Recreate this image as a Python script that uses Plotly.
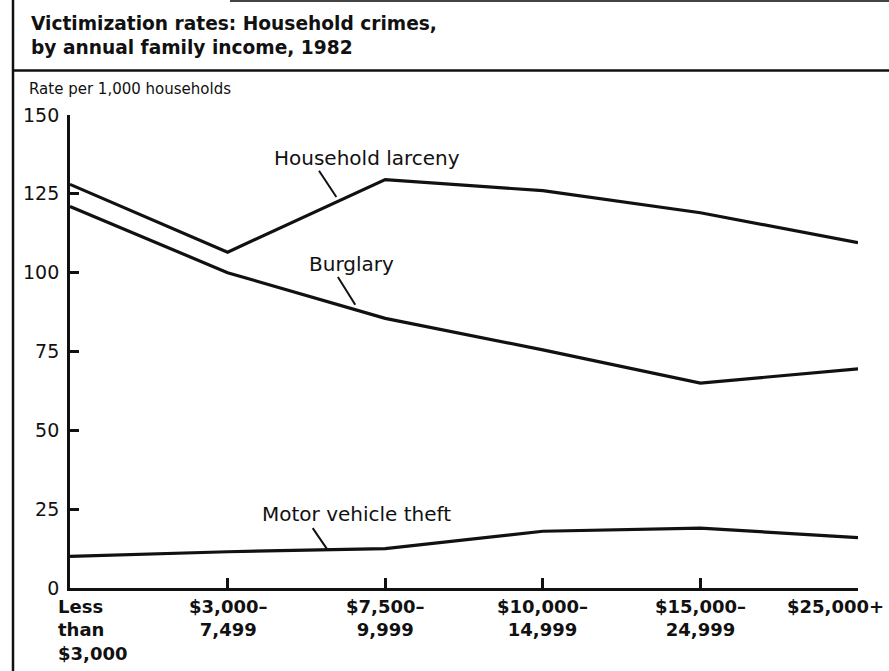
import plotly.graph_objects as go

# ---- data ----
categories = ["Less<br>than<br>$3,000", "$3,000–<br>7,499", "$7,500–<br>9,999",
              "$10,000–<br>14,999", "$15,000–<br>24,999", "$25,000+"]
household_larceny = [128, 106.5, 129.5, 126, 119, 109.5]
burglary = [121, 100, 85.5, 75.5, 65, 69.5]
motor_vehicle_theft = [10, 11.5, 12.5, 18, 19, 16]
y_ticks = [0, 25, 50, 75, 100, 125, 150]

W, H = 889, 671
L, R, T, B = 70, 31, 115, 83
FONT = "DejaVu Sans"
INK = "#111111"

x = list(range(len(categories)))

fig = go.Figure()
for vals, name in [(household_larceny, "Household larceny"),
                   (burglary, "Burglary"),
                   (motor_vehicle_theft, "Motor vehicle theft")]:
    fig.add_trace(go.Scatter(x=x, y=vals, mode="lines", name=name,
                             line=dict(color=INK, width=3.2), showlegend=False,
                             hoverinfo="x+y"))

def px_x(px):  # pixel -> paper
    return (px - L) / (W - L - R)

def px_y(py):
    return (H - B - py) / (H - T - B)

shapes = [
    # left frame line
    dict(type="line", xref="paper", yref="paper", x0=px_x(13), x1=px_x(13),
         y0=px_y(H), y1=px_y(0), line=dict(color=INK, width=2.5)),
    # separator under title
    dict(type="line", xref="paper", yref="paper", x0=px_x(13), x1=px_x(W),
         y0=px_y(70.5), y1=px_y(70.5), line=dict(color=INK, width=2.5)),
    # top rule
    dict(type="line", xref="paper", yref="paper", x0=px_x(230), x1=px_x(W),
         y0=px_y(1), y1=px_y(1), line=dict(color="#444444", width=2)),
]

# leader lines for series labels (data coords)
leaders = [((1.58, 132.3), (1.69, 124.0)),
           ((1.70, 98.6), (1.81, 89.8)),
           ((1.54, 19.0), (1.63, 12.4))]
for (x0, y0), (x1, y1) in leaders:
    shapes.append(dict(type="line", xref="x", yref="y", x0=x0, y0=y0, x1=x1, y1=y1,
                       line=dict(color=INK, width=2)))

annotations = [
    dict(text="Victimization rates: Household crimes,<br>by annual family income, 1982",
         xref="paper", yref="paper", x=px_x(29), y=px_y(11), xanchor="left", yanchor="top",
         align="left", showarrow=False,
         font=dict(family=FONT, size=18.6, color=INK, weight="bold")),
    dict(text="Rate per 1,000 households", xref="paper", yref="paper",
         x=px_x(27), y=px_y(89), xanchor="left", yanchor="middle", showarrow=False,
         font=dict(family=FONT, size=15, color=INK)),
    dict(text="Household larceny", xref="x", yref="y", x=1.885, y=136.4,
         showarrow=False, font=dict(family=FONT, size=20, color=INK)),
    dict(text="Burglary", xref="x", yref="y", x=1.783, y=102.8,
         showarrow=False, font=dict(family=FONT, size=20, color=INK)),
    dict(text="Motor vehicle theft", xref="x", yref="y", x=1.815, y=23.5,
         showarrow=False, font=dict(family=FONT, size=20, color=INK)),
]

# category labels under ticks
for i, lab in enumerate(categories):
    a = dict(text=lab, xref="x", yref="paper", x=i, y=0, yanchor="top", yshift=-6,
             showarrow=False, font=dict(family=FONT, size=18, color=INK, weight="bold"))
    if i == 0:
        a.update(xanchor="left", xshift=-14, align="left")
    elif i == len(categories) - 1:
        a.update(xanchor="right", xshift=28, align="right")
    else:
        a.update(xanchor="center", align="center")
    annotations.append(a)

fig.update_layout(
    width=W, height=H, margin=dict(l=L, r=R, t=T, b=B, pad=0),
    paper_bgcolor="white", plot_bgcolor="white",
    shapes=shapes, annotations=annotations,
    xaxis=dict(range=[0, len(categories) - 1], tickvals=x, showticklabels=False,
               ticks="inside", ticklen=10, tickwidth=2.5, tickcolor=INK,
               showline=True, linecolor=INK, linewidth=2.8, showgrid=False,
               zeroline=False, fixedrange=True),
    yaxis=dict(range=[0, 150], tickvals=y_ticks, ticktext=[str(v) for v in y_ticks],
               ticks="inside", ticklen=9, tickwidth=2.5, tickcolor=INK,
               showline=True, linecolor=INK, linewidth=2.8, showgrid=False,
               zeroline=False, ticklabelstandoff=4,
               tickfont=dict(family=FONT, size=19, color=INK), fixedrange=True),
)

fig.write_html(
    "out.html",
    config={"displayModeBar": False},
    post_script="document.body.style.margin='0';document.body.style.overflow='hidden';",
)
